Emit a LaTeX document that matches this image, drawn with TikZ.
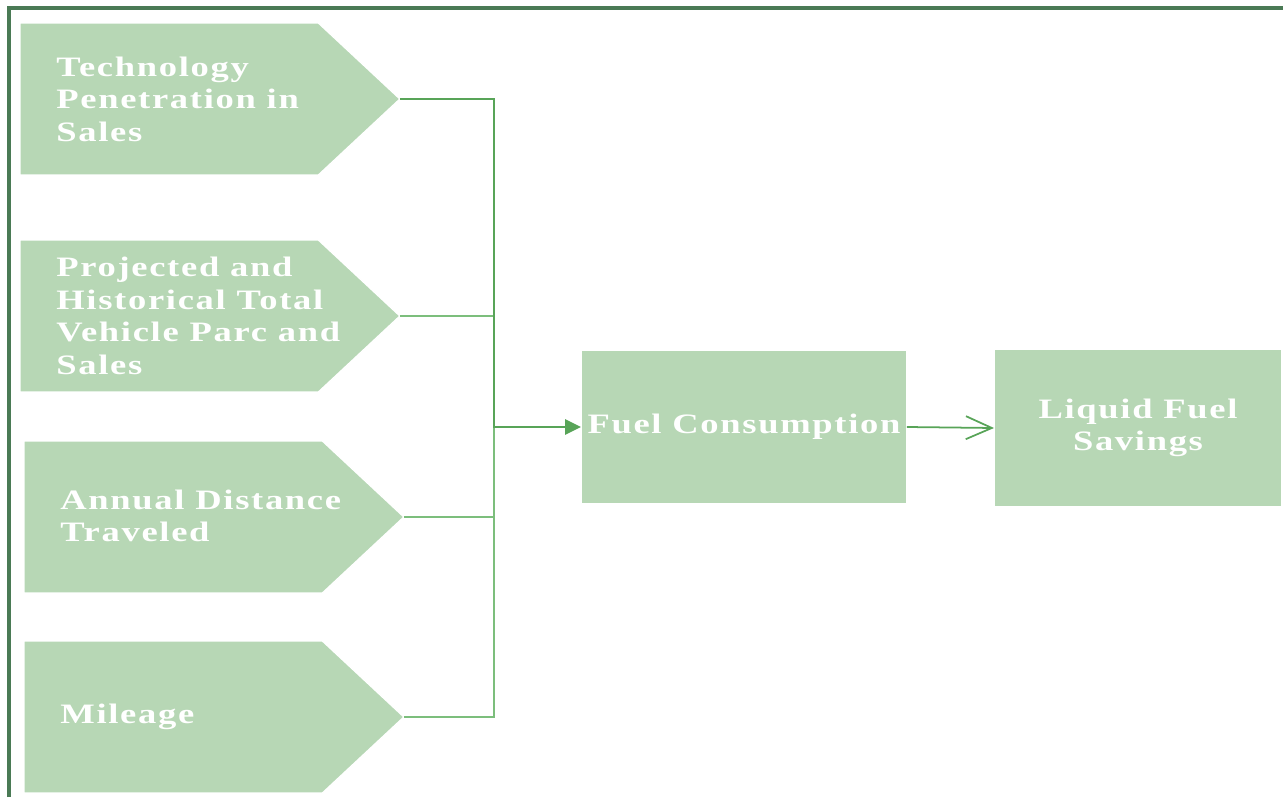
\documentclass[tikz,border=0pt]{standalone}
\usepackage{fontspec}
\newfontfamily\boxfont{Liberation Serif}[FakeStretch=1.3,LetterSpace=6]
\usetikzlibrary{arrows.meta,shapes.symbols,positioning}
\definecolor{boxgreen}{HTML}{B7D7B5}
\definecolor{framegreen}{HTML}{4A7A55}
\definecolor{linegreen}{HTML}{58A458}
\definecolor{feedgreen}{HTML}{7CBE7C}

\tikzset{
  inbox/.style={signal, signal to=east, signal pointer angle=86, fill=boxgreen,
    draw=white, line width=0.8pt, minimum width=7.6cm, minimum height=3.04cm,
    inner sep=0pt, outer sep=0pt, anchor=west},
  outbox/.style={rectangle, fill=boxgreen, draw=white, line width=0.8pt,
    inner sep=0pt, outer sep=0pt, text=white, align=center,
    font=\boxfont\bfseries\fontsize{16}{18.5}\selectfont},
  boxtext/.style={text=white, font=\boxfont\bfseries\fontsize{16}{18.5}\selectfont,
    align=left, anchor=west, inner sep=0pt},
  mainline/.style={draw=linegreen, line width=1.6pt},
  feedline/.style={draw=feedgreen, line width=1.1pt}
}

\begin{document}
\begin{tikzpicture}[x=0.02cm, y=-0.02cm]
    \useasboundingbox (0,0) rectangle (1283,797);
    % frame
    \draw[framegreen, line width=2pt] (9,797) -- (9,8) -- (1283,8);

    % inputs
    \node[inbox] (tech) at (20,99) {};
    \node[inbox] (parc) at (20,316) {};
    \node[inbox] (dist) at (24,517) {};
    \node[inbox] (mile) at (24,717) {};

    \node[boxtext] (techtxt) at (56,99) {Technology\\Penetration in\\Sales};
    \node[boxtext] (parctxt) at (56,316) {Projected and\\Historical Total\\Vehicle Parc and\\Sales};
    \node[boxtext] (disttxt) at (60,516) {Annual Distance\\Traveled};
    \node[boxtext] (miletxt) at (60,717) {Mileage};

    % outputs
    \node[outbox, minimum width=6.52cm, minimum height=3.08cm] (fuel) at (744,427) {Fuel Consumption};
    \node[outbox, minimum width=5.76cm, minimum height=3.16cm] (save) at (1138,428) {Liquid Fuel\\Savings};

    \coordinate (bus) at (494,427);

    \draw[feedline] (parc.east) -| (bus);
    \draw[feedline] (dist.east) -| (bus);
    \draw[feedline] (mile.east) -| (bus);
    \draw[mainline, -{Triangle[length=0.32cm, width=0.3cm]}] (tech.east) -| (bus) -- (fuel.west);

    \draw[linegreen, line width=1pt, -{Straight Barb[length=0.52cm, width=0.46cm]}] (fuel.east) -- (save.west);
\end{tikzpicture}
\end{document}
